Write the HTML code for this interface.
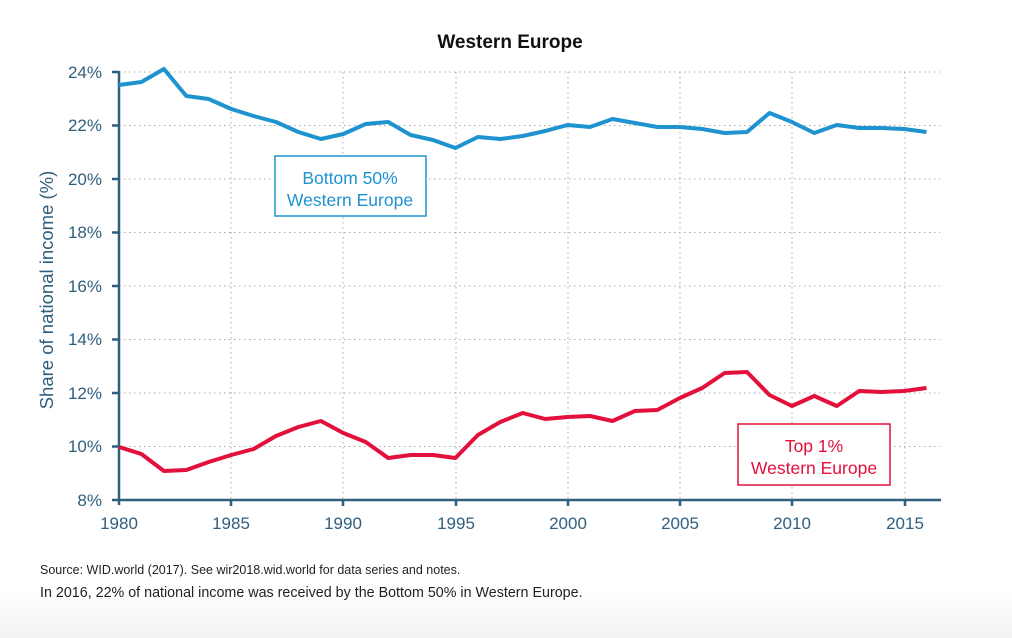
<!DOCTYPE html>
<html><head><meta charset="utf-8"><style>
html,body{margin:0;padding:0;}
body{width:1012px;height:638px;overflow:hidden;background:linear-gradient(#fff 0,#fff 590px,#f3f3f3 638px);font-family:"Liberation Sans",sans-serif;}
svg{position:absolute;left:0;top:0;}
</style></head><body>
<svg width="1012" height="638" xmlns="http://www.w3.org/2000/svg">
<text x="510" y="48" text-anchor="middle" font-size="19" font-weight="bold" fill="#111">Western Europe</text>
<g stroke="#aaa" stroke-width="1" stroke-dasharray="1.5,3.5">
<line x1="119" x2="940" y1="72" y2="72"/><line x1="119" x2="940" y1="125.5" y2="125.5"/>
<line x1="119" x2="940" y1="179" y2="179"/><line x1="119" x2="940" y1="232.5" y2="232.5"/>
<line x1="119" x2="940" y1="286" y2="286"/><line x1="119" x2="940" y1="339.5" y2="339.5"/>
<line x1="119" x2="940" y1="393" y2="393"/><line x1="119" x2="940" y1="446.5" y2="446.5"/>
<line x1="231" x2="231" y1="72" y2="500"/><line x1="343" x2="343" y1="72" y2="500"/>
<line x1="456" x2="456" y1="72" y2="500"/><line x1="568" x2="568" y1="72" y2="500"/>
<line x1="680" x2="680" y1="72" y2="500"/><line x1="792" x2="792" y1="72" y2="500"/>
<line x1="905" x2="905" y1="72" y2="500"/>
</g>
<g stroke="#2f5f7f" stroke-width="2.5" fill="none">
<line x1="119" x2="119" y1="71" y2="505"/>
<line x1="112" x2="941" y1="500" y2="500"/>
<path d="M112 72h7M112 125.5h7M112 179h7M112 232.5h7M112 286h7M112 339.5h7M112 393h7M112 446.5h7M231 500v6M343 500v6M456 500v6M568 500v6M680 500v6M792 500v6M905 500v6"/>
</g>
<g font-size="17" fill="#2f5f7f" text-anchor="end">
<text x="102" y="78">24%</text><text x="102" y="131">22%</text><text x="102" y="185">20%</text>
<text x="102" y="238">18%</text><text x="102" y="292">16%</text><text x="102" y="345">14%</text>
<text x="102" y="399">12%</text><text x="102" y="452">10%</text><text x="102" y="506">8%</text>
</g>
<g font-size="17" fill="#2f5f7f" text-anchor="middle">
<text x="119" y="529">1980</text><text x="231" y="529">1985</text><text x="343" y="529">1990</text>
<text x="456" y="529">1995</text><text x="568" y="529">2000</text><text x="680" y="529">2005</text>
<text x="792" y="529">2010</text><text x="905" y="529">2015</text>
</g>
<text transform="translate(53,290) rotate(-90)" text-anchor="middle" font-size="18.5" fill="#2f5f7f">Share of national income (%)</text>
<polyline id="b" fill="none" stroke="#1e93cf" stroke-width="4" stroke-linejoin="round"/>
<polyline id="r" fill="none" stroke="#e2103a" stroke-width="4" stroke-linejoin="round"/>
<rect x="275" y="156" width="151" height="60" fill="#fff" stroke="#1e93cf" stroke-width="1.5"/>
<text x="350" y="184" text-anchor="middle" font-size="17.5" fill="#1e93cf">Bottom 50%</text>
<text x="350" y="206" text-anchor="middle" font-size="17.5" fill="#1e93cf">Western Europe</text>
<rect x="738" y="424" width="152" height="61" fill="#fff" stroke="#e2103a" stroke-width="1.5"/>
<text x="814" y="452" text-anchor="middle" font-size="17.5" fill="#e2103a">Top 1%</text>
<text x="814" y="474" text-anchor="middle" font-size="17.5" fill="#e2103a">Western Europe</text>
<text x="40" y="574" font-size="12.5" fill="#222">Source:  WID.world (2017). See wir2018.wid.world for data series and notes.</text>
<text x="40" y="597" font-size="14.3" fill="#222">In 2016, 22% of national income was received by the Bottom 50% in Western Europe.</text>
</svg>
<script>
var B=[85,82,69,96,99,109,116,122,132,139,134,124,122,135,140,148,137,139,136,131,125,127,119,123,127,127,129,133,132,113,122,133,125,128,128,129,132];
var R=[447,454,471,470,462,455,449,436,427,421,433,442,458,455,455,458,435,422,413,419,417,416,421,411,410,398,388,373,372,395,406,396,406,391,392,391,388];
function p(a){return a.map(function(y,i){return (119+i*22.43).toFixed(1)+","+y}).join(" ");}
document.getElementById("b").setAttribute("points",p(B));
document.getElementById("r").setAttribute("points",p(R));
</script>
</body></html>
